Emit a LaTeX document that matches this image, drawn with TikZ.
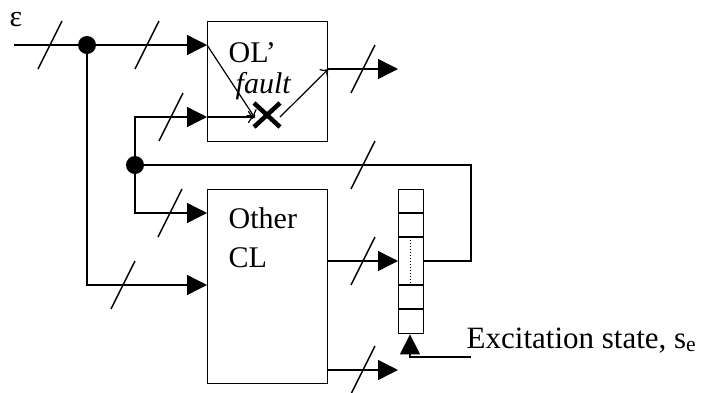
\documentclass[tikz,border=0pt]{standalone}
\usepackage{fontspec}
\setmainfont{Liberation Serif}
\usetikzlibrary{arrows.meta}
\begin{document}
\begin{tikzpicture}[x=1pt,y=-1pt,line width=1.4pt,
  big/.style={-{Triangle[length=20pt,width=20pt]}},
  thinarrow/.style={line width=1.2pt,-{To[length=7pt,width=12pt]}},
  dot/.style={circle,fill=black,inner sep=0pt,minimum size=18pt},
  box/.style={draw,inner sep=0pt,anchor=north west},
  lbl/.style={inner sep=0pt,anchor=base west,font=\fontsize{30}{36}\selectfont},
  busmark/.pic={\draw (-12,24) -- (12,-24);}
]
\useasboundingbox[fill=white] (0,0) rectangle (702,392);
% boxes
\node[box,minimum width=120pt,minimum height=120pt] (ol) at (207,21) {};
\node[box,minimum width=120pt,minimum height=194pt] (cl) at (207,189) {};
\node[box,minimum width=25pt,minimum height=144pt] (reg) at (398,189) {};
\draw (398,213) -- (423,213) (398,237) -- (423,237) (398,285) -- (423,285) (398,309) -- (423,309);
\draw[dotted,line width=1pt] (410,237) -- (410,285);
% junctions
\coordinate (in) at (14,45);
\node[dot] (d1) at (87,45) {};
\node[dot] (d2) at (135,165) {};
\coordinate (fb1) at (471,165);
\coordinate (fb2) at (471,261);
\coordinate (ex) at (471,357);
\coordinate (exb) at (410,357);
\coordinate (x) at (267,115);
% wires
\draw[big] (in) -- (ol.west |- in);
\draw[big] (d1.center) -- (d1.center |- 0,285) -- (cl.west |- 0,285);
\draw[big] (d2.center) -- (d2.center |- 0,117) -- (ol.west |- 0,117);
\draw[big] (d2.center) -- (d2.center |- 0,213) -- (cl.west |- 0,213);
\draw (d2.center) -- (fb1) -- (fb2) -- (reg.east |- fb2);
\draw[big] (cl.east |- fb2) -- (reg.west |- fb2);
\draw[big] (cl.east |- 0,370) -- (398,370);
\draw[big] (ol.east |- 0,69) -- (398,69);
\draw[big] (ex) -- (exb) -- (reg.south -| exb);
% inside OL'
\draw[thinarrow] (ol.west |- in) -- (255,118);
\draw[thinarrow] (ol.west |- 0,117) -- (255,117);
\draw[thinarrow] (280,117) -- (ol.east |- 0,69);
\draw[line width=4.5pt] (x) +(-13,-12) -- +(13,12) (x) +(-13,12) -- +(13,-12);
% bus marks
\pic at (50,45) {busmark};
\pic at (147,45) {busmark};
\pic at (171,117) {busmark};
\pic at (363,69) {busmark};
\pic at (363,165) {busmark};
\pic at (170,213) {busmark};
\pic at (123,285) {busmark};
\pic at (363,261) {busmark};
\pic at (363,370) {busmark};
% labels
\node[lbl] (eps) at (9,26) {ε};
\node[lbl] (oltxt) at (228,62) {OL’};
\node[lbl] (flt) at (235,93) {\itshape fault};
\node[lbl] (oth) at (228,228) {Other};
\node[lbl] (cltxt) at (228,267) {CL};
\node[lbl,font=\fontsize{31}{36}\selectfont] (exc) at (466,348) {Excitation state, s\textsubscript{e}};
\end{tikzpicture}
\end{document}
